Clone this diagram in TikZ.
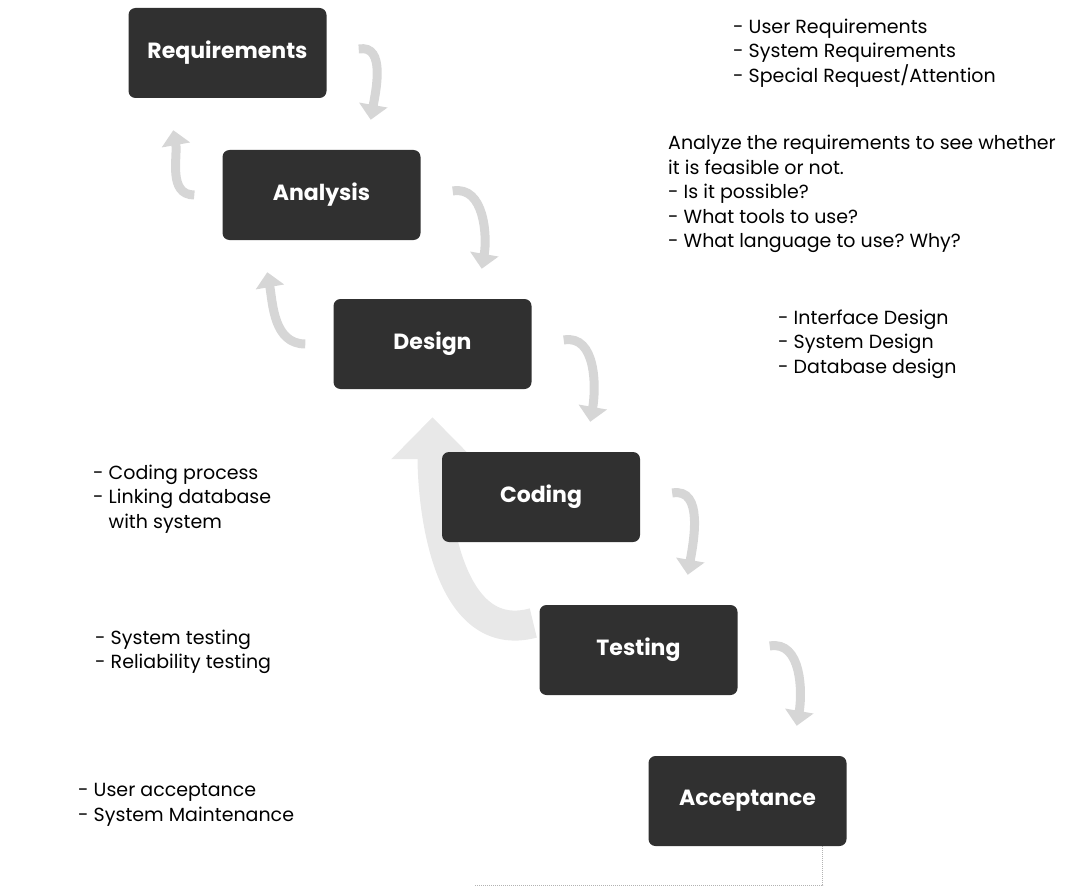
\documentclass[tikz,border=0pt]{standalone}
\usepackage{fontspec}
\setmainfont{Poppins}
\usepackage{tikz}
\usetikzlibrary{calc,arrows.meta}
\definecolor{stagefill}{HTML}{303030}
\definecolor{flowgray}{HTML}{D6D6D6}
\definecolor{loopgray}{HTML}{E8E8E8}
\pgfdeclarelayer{background}
\pgfsetlayers{background,main}
\frenchspacing

\tikzset{
  stage/.style={fill=stagefill, rounded corners=7pt, minimum width=198pt, minimum height=90pt,
    inner sep=0pt, text=white, font=\bfseries\fontsize{22}{26}\selectfont},
  note/.style={anchor=west, align=left, inner sep=0pt, font=\fontsize{19}{24.5}\selectfont},
  fwd/.style={draw=flowgray, line width=9pt, -{Triangle[length=15pt,width=28pt]}},
  back/.style={draw=flowgray, line width=9pt, -{Triangle[length=15pt,width=28pt]}},
  bigback/.style={draw=loopgray, line width=30pt, -{Triangle[length=42pt,width=80pt]}},
  retline/.style={draw=gray!60, densely dotted, line width=1pt}
}

\begin{document}
\begin{tikzpicture}[x=1pt, y=-1pt]
\useasboundingbox (0,0) rectangle (1082,888);
% Stages
\node[stage] (req) at (227.5,53) {Requirements};
\node[stage] (ana) at (321.5,195) {Analysis};
\node[stage] (des) at (432.5,344) {Design};
\node[stage] (cod) at (541,497) {Coding};
\node[stage] (tst) at (638.5,650) {Testing};
\node[stage] (acc) at (747.5,801) {Acceptance};
% Notes
\node[note] (reqnote) at (733,53) {- User Requirements\\- System Requirements\\- Special Request/Attention};
\node[note] (ananote) at (668,194) {Analyze the requirements to see whether\\it is feasible or not.\\- Is it possible?\\- What tools to use?\\- What language to use? Why?};
\node[note] (desnote) at (778,344) {- Interface Design\\- System Design\\- Database design};
\node[note] (codnote) at (93,499) {- Coding process\\- Linking database\\\phantom{- }with system};
\node[note] (tstnote) at (95,652) {- System testing\\- Reliability testing};
\node[note] (accnote) at (78,805) {- User acceptance\\- System Maintenance};
% Arrows
\begin{pgfonlayer}{background}
\foreach \a/\b in {req/ana, ana/des, des/cod, cod/tst, tst/acc} {
  \draw[fwd] ($(\a.east)+(32,-4)$) to[out=10,in=80] ($(\b.north east)+(-50,-30)$);
}
\foreach \a/\b in {req/ana, ana/des} {
  \draw[back] ($(\b.west)+(-28,0)$) to[out=180,in=-80] ($(\a.south west)+(45,32)$);
}
\draw[bigback] ($(tst.west)+(-6,-27)$) to[out=195,in=-90] ($(des.south)+(0,28)$);
\coordinate (retend) at (475,885);
\draw[retline] ($(acc.south east)+(-24,0)$) |- (retend);
\end{pgfonlayer}
\end{tikzpicture}
\end{document}
